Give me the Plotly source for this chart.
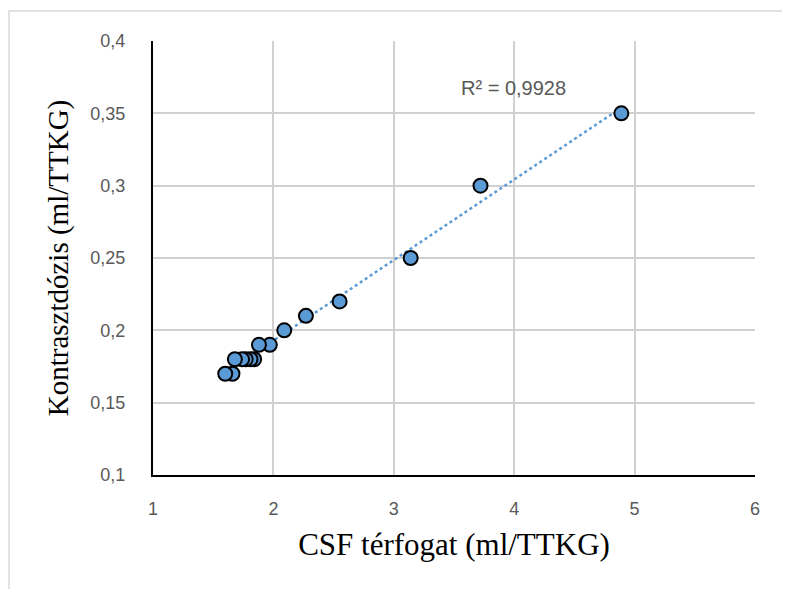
import numpy as np
import plotly.graph_objects as go

# Data
csf_volume = [4.89, 3.72, 3.14, 2.55, 2.27, 2.09, 1.97, 1.88, 1.84, 1.81, 1.77, 1.74, 1.68, 1.66, 1.60]
contrast_dose = [0.35, 0.30, 0.25, 0.22, 0.21, 0.20, 0.19, 0.19, 0.18, 0.18, 0.18, 0.18, 0.18, 0.17, 0.17]
r2_label = "R² = 0,9928"
x_title = "CSF térfogat (ml/TTKG)"
y_title = "Kontrasztdózis (ml/TTKG)"
x_ticks = [1, 2, 3, 4, 5, 6]
y_ticks = [0.1, 0.15, 0.2, 0.25, 0.3, 0.35, 0.4]

# Linear trendline from the data
xs = np.array(csf_volume)
ys = np.array(contrast_dose)
slope, intercept = np.polyfit(xs, ys, 1)
tx = np.array([xs.min(), xs.max()])
ty = slope * tx + intercept

blue = "#5B9BD5"
grid = "#D0D0D0"
tick_font = dict(family="Liberation Sans", size=18, color="#595959")

fig = go.Figure()
fig.add_trace(go.Scatter(x=tx, y=ty, mode="lines",
                         line=dict(color=blue, width=2.5, dash="dot"),
                         hoverinfo="skip", showlegend=False))
fig.add_trace(go.Scatter(x=csf_volume, y=contrast_dose, mode="markers",
                         marker=dict(size=14, color=blue, line=dict(color="black", width=2)),
                         showlegend=False))

fig.add_annotation(x=3.99, y=0.3675, xref="x", yref="y", text=r2_label, showarrow=False,
                   font=dict(family="Liberation Sans", size=20, color="#595959"))

# outer chart border
fig.add_shape(type="rect", xref="paper", yref="paper",
              x0=(1 - 145) / 602, x1=(800 - 145) / 602,
              y0=(467 - 600) / 434, y1=(467 - 3) / 434,
              line=dict(color="#D9D9D9", width=1.5), layer="below")

fig.update_layout(
    width=790, height=589,
    margin=dict(l=145, r=43, t=33, b=122),
    paper_bgcolor="white", plot_bgcolor="white",
    separators=", ",
    showlegend=False,
)
fig.update_xaxes(range=[1, 6], tickvals=x_ticks, showgrid=True, gridcolor=grid, gridwidth=1.5,
                 showline=True, linecolor="black", linewidth=2, zeroline=False,
                 ticks="outside", ticklen=16, tickcolor="rgba(0,0,0,0)",
                 tickfont=tick_font,
                 title=dict(text=x_title, font=dict(family="Liberation Serif", size=31, color="black"),
                            standoff=16))
fig.update_yaxes(range=[0.1, 0.4], tickvals=y_ticks, showgrid=True, gridcolor=grid, gridwidth=1.5,
                 showline=True, linecolor="black", linewidth=2, zeroline=False,
                 ticks="outside", ticklen=22, tickcolor="rgba(0,0,0,0)",
                 tickfont=tick_font,
                 title=dict(text=y_title, font=dict(family="Liberation Serif", size=29, color="black"),
                            standoff=13))

fig.write_html("out.html")
